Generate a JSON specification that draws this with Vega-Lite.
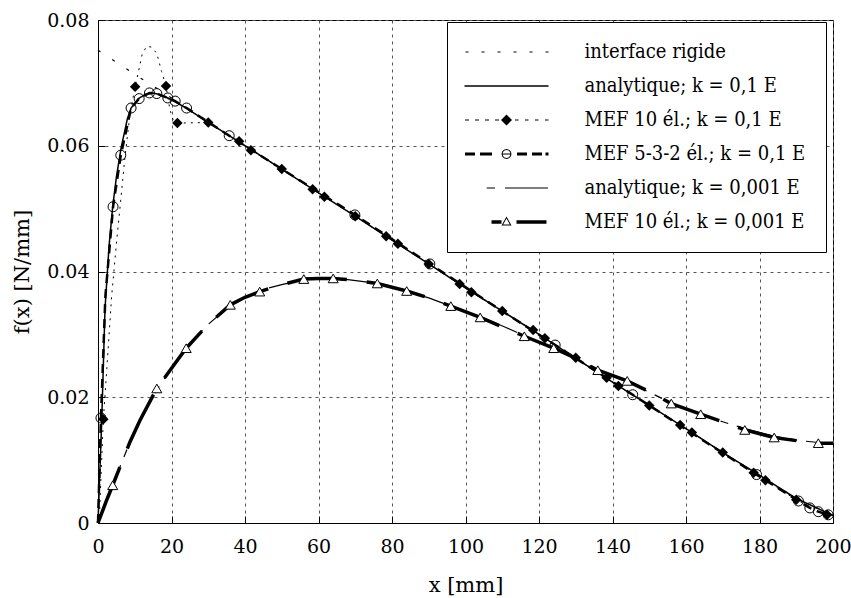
{
  "$schema": "https://vega.github.io/schema/vega-lite/v6.json",
  "width": 735,
  "height": 503,
  "autosize": {"type": "none"},
  "padding": {"left": 98, "top": 20, "right": 18, "bottom": 75},
  "background": "white",
  "datasets": {
    "d": [
      {"s": "rig", "x": 0, "y": 0.0752, "m": 0}, {"s": "rig", "x": 6, "y": 0.0729, "m": 0}, {"s": "rig", "x": 12, "y": 0.0706, "m": 0}, {"s": "rig", "x": 18, "y": 0.0684, "m": 0}, {"s": "rig", "x": 24, "y": 0.066, "m": 0}, {"s": "rig", "x": 30, "y": 0.0637, "m": 0}, {"s": "rig", "x": 40, "y": 0.06, "m": 0}, {"s": "rig", "x": 50, "y": 0.0563, "m": 0}, {"s": "rig", "x": 60, "y": 0.0525, "m": 0}, {"s": "rig", "x": 70, "y": 0.0488, "m": 0}, {"s": "rig", "x": 80, "y": 0.045, "m": 0}, {"s": "rig", "x": 90, "y": 0.0412, "m": 0}, {"s": "rig", "x": 100, "y": 0.0374, "m": 0}, {"s": "rig", "x": 110, "y": 0.0337, "m": 0}, {"s": "rig", "x": 120, "y": 0.03, "m": 0}, {"s": "rig", "x": 130, "y": 0.0262, "m": 0}, {"s": "rig", "x": 140, "y": 0.0224, "m": 0}, {"s": "rig", "x": 150, "y": 0.0187, "m": 0}, {"s": "rig", "x": 160, "y": 0.015, "m": 0}, {"s": "rig", "x": 170, "y": 0.0112, "m": 0}, {"s": "rig", "x": 180, "y": 0.0076, "m": 0}, {"s": "rig", "x": 190, "y": 0.0039, "m": 0}, {"s": "rig", "x": 200, "y": 0.0012, "m": 0},

      {"s": "a01", "x": 0, "y": 0, "m": 0}, {"s": "a01", "x": 0.3, "y": 0.005, "m": 0}, {"s": "a01", "x": 1, "y": 0.016, "m": 0}, {"s": "a01", "x": 1.9, "y": 0.034, "m": 0}, {"s": "a01", "x": 3, "y": 0.044, "m": 0}, {"s": "a01", "x": 4, "y": 0.0503, "m": 0}, {"s": "a01", "x": 5, "y": 0.055, "m": 0}, {"s": "a01", "x": 6.3, "y": 0.0597, "m": 0}, {"s": "a01", "x": 8, "y": 0.0643, "m": 0}, {"s": "a01", "x": 9, "y": 0.066, "m": 0}, {"s": "a01", "x": 11, "y": 0.0675, "m": 0}, {"s": "a01", "x": 13, "y": 0.0682, "m": 0}, {"s": "a01", "x": 15, "y": 0.0684, "m": 0}, {"s": "a01", "x": 17, "y": 0.0681, "m": 0}, {"s": "a01", "x": 19, "y": 0.0676, "m": 0}, {"s": "a01", "x": 21, "y": 0.067, "m": 0}, {"s": "a01", "x": 24, "y": 0.066, "m": 0}, {"s": "a01", "x": 30, "y": 0.0637, "m": 0}, {"s": "a01", "x": 36, "y": 0.0615, "m": 0}, {"s": "a01", "x": 40, "y": 0.06, "m": 0}, {"s": "a01", "x": 50, "y": 0.0563, "m": 0}, {"s": "a01", "x": 60, "y": 0.0525, "m": 0}, {"s": "a01", "x": 70, "y": 0.0488, "m": 0}, {"s": "a01", "x": 80, "y": 0.045, "m": 0}, {"s": "a01", "x": 90, "y": 0.0412, "m": 0}, {"s": "a01", "x": 100, "y": 0.0374, "m": 0}, {"s": "a01", "x": 110, "y": 0.0337, "m": 0}, {"s": "a01", "x": 120, "y": 0.03, "m": 0}, {"s": "a01", "x": 130, "y": 0.0262, "m": 0}, {"s": "a01", "x": 140, "y": 0.0224, "m": 0}, {"s": "a01", "x": 150, "y": 0.0187, "m": 0}, {"s": "a01", "x": 160, "y": 0.015, "m": 0}, {"s": "a01", "x": 170, "y": 0.0112, "m": 0}, {"s": "a01", "x": 180, "y": 0.0076, "m": 0}, {"s": "a01", "x": 190, "y": 0.0039, "m": 0}, {"s": "a01", "x": 200, "y": 0.0012, "m": 0},

      {"s": "m01", "x": 0.3, "y": 0, "m": 0}, {"s": "m01", "x": 1.45, "y": 0.0165, "m": 1}, {"s": "m01", "x": 2.4, "y": 0.0245, "m": 0}, {"s": "m01", "x": 3.7, "y": 0.036, "m": 0}, {"s": "m01", "x": 5.1, "y": 0.045, "m": 0}, {"s": "m01", "x": 6.3, "y": 0.052, "m": 0}, {"s": "m01", "x": 7.3, "y": 0.058, "m": 0}, {"s": "m01", "x": 8.7, "y": 0.065, "m": 0}, {"s": "m01", "x": 10.1, "y": 0.0694, "m": 1}, {"s": "m01", "x": 10.9, "y": 0.0715, "m": 0}, {"s": "m01", "x": 12, "y": 0.0745, "m": 0}, {"s": "m01", "x": 13.2, "y": 0.0758, "m": 0}, {"s": "m01", "x": 14.5, "y": 0.0757, "m": 0}, {"s": "m01", "x": 16, "y": 0.0747, "m": 0}, {"s": "m01", "x": 17.3, "y": 0.0718, "m": 0}, {"s": "m01", "x": 18.5, "y": 0.0695, "m": 1}, {"s": "m01", "x": 19.6, "y": 0.0657, "m": 0}, {"s": "m01", "x": 20.5, "y": 0.064, "m": 0}, {"s": "m01", "x": 21.6, "y": 0.0636, "m": 1}, {"s": "m01", "x": 30, "y": 0.0637, "m": 1}, {"s": "m01", "x": 38.4, "y": 0.0607, "m": 1}, {"s": "m01", "x": 41.6, "y": 0.0593, "m": 1}, {"s": "m01", "x": 50, "y": 0.0563, "m": 1}, {"s": "m01", "x": 58.4, "y": 0.0531, "m": 1}, {"s": "m01", "x": 61.6, "y": 0.0519, "m": 1}, {"s": "m01", "x": 70, "y": 0.0488, "m": 1}, {"s": "m01", "x": 78.4, "y": 0.0456, "m": 1}, {"s": "m01", "x": 81.6, "y": 0.0444, "m": 1}, {"s": "m01", "x": 90, "y": 0.0412, "m": 1}, {"s": "m01", "x": 98.4, "y": 0.038, "m": 1}, {"s": "m01", "x": 101.6, "y": 0.0367, "m": 1}, {"s": "m01", "x": 110, "y": 0.0337, "m": 1}, {"s": "m01", "x": 118.4, "y": 0.0307, "m": 1}, {"s": "m01", "x": 121.6, "y": 0.0294, "m": 1}, {"s": "m01", "x": 130, "y": 0.0263, "m": 1}, {"s": "m01", "x": 138.4, "y": 0.0231, "m": 1}, {"s": "m01", "x": 141.6, "y": 0.0218, "m": 1}, {"s": "m01", "x": 150, "y": 0.0187, "m": 1}, {"s": "m01", "x": 158.4, "y": 0.0156, "m": 1}, {"s": "m01", "x": 161.6, "y": 0.0144, "m": 1}, {"s": "m01", "x": 170, "y": 0.0112, "m": 1}, {"s": "m01", "x": 178.4, "y": 0.008, "m": 1}, {"s": "m01", "x": 181.6, "y": 0.0068, "m": 1}, {"s": "m01", "x": 190, "y": 0.0037, "m": 1}, {"s": "m01", "x": 198.4, "y": 0.0013, "m": 1},

      {"s": "m532", "x": 0, "y": 0, "m": 0}, {"s": "m532", "x": 0.8, "y": 0.0167, "m": 1}, {"s": "m532", "x": 2, "y": 0.036, "m": 0}, {"s": "m532", "x": 4.1, "y": 0.0503, "m": 1}, {"s": "m532", "x": 6.2, "y": 0.0585, "m": 1}, {"s": "m532", "x": 9, "y": 0.066, "m": 1}, {"s": "m532", "x": 11.2, "y": 0.0675, "m": 1}, {"s": "m532", "x": 14, "y": 0.0684, "m": 1}, {"s": "m532", "x": 16, "y": 0.0683, "m": 1}, {"s": "m532", "x": 19, "y": 0.0676, "m": 1}, {"s": "m532", "x": 21, "y": 0.0671, "m": 1}, {"s": "m532", "x": 24.1, "y": 0.066, "m": 1}, {"s": "m532", "x": 35.7, "y": 0.0616, "m": 1}, {"s": "m532", "x": 50, "y": 0.0563, "m": 0}, {"s": "m532", "x": 69.9, "y": 0.049, "m": 1}, {"s": "m532", "x": 90.3, "y": 0.0412, "m": 1}, {"s": "m532", "x": 110, "y": 0.0337, "m": 0}, {"s": "m532", "x": 124.4, "y": 0.0283, "m": 1}, {"s": "m532", "x": 145.5, "y": 0.0204, "m": 1}, {"s": "m532", "x": 165, "y": 0.013, "m": 0}, {"s": "m532", "x": 179.2, "y": 0.0077, "m": 1}, {"s": "m532", "x": 190.6, "y": 0.0035, "m": 1}, {"s": "m532", "x": 193.7, "y": 0.0024, "m": 1}, {"s": "m532", "x": 196, "y": 0.0018, "m": 1}, {"s": "m532", "x": 198.7, "y": 0.0013, "m": 1},

      {"s": "a0001", "x": 0, "y": 0, "m": 0}, {"s": "a0001", "x": 2.4, "y": 0.0037, "m": 0}, {"s": "a0001", "x": 5, "y": 0.0075, "m": 0}, {"s": "a0001", "x": 8.7, "y": 0.0129, "m": 0}, {"s": "a0001", "x": 12, "y": 0.017, "m": 0}, {"s": "a0001", "x": 16, "y": 0.0212, "m": 0}, {"s": "a0001", "x": 20, "y": 0.0246, "m": 0}, {"s": "a0001", "x": 25, "y": 0.0286, "m": 0}, {"s": "a0001", "x": 30, "y": 0.0316, "m": 0}, {"s": "a0001", "x": 36, "y": 0.0346, "m": 0}, {"s": "a0001", "x": 40, "y": 0.0359, "m": 0}, {"s": "a0001", "x": 46, "y": 0.0373, "m": 0}, {"s": "a0001", "x": 50, "y": 0.0379, "m": 0}, {"s": "a0001", "x": 56, "y": 0.0387, "m": 0}, {"s": "a0001", "x": 62, "y": 0.0389, "m": 0}, {"s": "a0001", "x": 68, "y": 0.0387, "m": 0}, {"s": "a0001", "x": 76, "y": 0.0381, "m": 0}, {"s": "a0001", "x": 84, "y": 0.0368, "m": 0}, {"s": "a0001", "x": 90, "y": 0.0358, "m": 0}, {"s": "a0001", "x": 96, "y": 0.0345, "m": 0}, {"s": "a0001", "x": 105, "y": 0.0326, "m": 0}, {"s": "a0001", "x": 111, "y": 0.0311, "m": 0}, {"s": "a0001", "x": 116, "y": 0.0298, "m": 0}, {"s": "a0001", "x": 124, "y": 0.0278, "m": 0}, {"s": "a0001", "x": 130, "y": 0.0262, "m": 0}, {"s": "a0001", "x": 136, "y": 0.0244, "m": 0}, {"s": "a0001", "x": 144, "y": 0.0224, "m": 0}, {"s": "a0001", "x": 150, "y": 0.0208, "m": 0}, {"s": "a0001", "x": 156, "y": 0.0191, "m": 0}, {"s": "a0001", "x": 164, "y": 0.0172, "m": 0}, {"s": "a0001", "x": 170, "y": 0.0161, "m": 0}, {"s": "a0001", "x": 176, "y": 0.015, "m": 0}, {"s": "a0001", "x": 184, "y": 0.0138, "m": 0}, {"s": "a0001", "x": 191, "y": 0.0131, "m": 0}, {"s": "a0001", "x": 196, "y": 0.0128, "m": 0}, {"s": "a0001", "x": 200, "y": 0.0127, "m": 0},

      {"s": "m0001", "x": 0, "y": 0, "m": 0}, {"s": "m0001", "x": 2.4, "y": 0.0037, "m": 0}, {"s": "m0001", "x": 4, "y": 0.006, "m": 1}, {"s": "m0001", "x": 8.7, "y": 0.0129, "m": 0}, {"s": "m0001", "x": 11.4, "y": 0.0163, "m": 0}, {"s": "m0001", "x": 16, "y": 0.0214, "m": 1}, {"s": "m0001", "x": 21, "y": 0.0254, "m": 0}, {"s": "m0001", "x": 24, "y": 0.0278, "m": 1}, {"s": "m0001", "x": 30, "y": 0.0316, "m": 0}, {"s": "m0001", "x": 36, "y": 0.0347, "m": 1}, {"s": "m0001", "x": 40, "y": 0.0359, "m": 0}, {"s": "m0001", "x": 44, "y": 0.0368, "m": 1}, {"s": "m0001", "x": 50, "y": 0.0379, "m": 0}, {"s": "m0001", "x": 56, "y": 0.0388, "m": 1}, {"s": "m0001", "x": 60, "y": 0.0389, "m": 0}, {"s": "m0001", "x": 64, "y": 0.0389, "m": 1}, {"s": "m0001", "x": 70, "y": 0.0386, "m": 0}, {"s": "m0001", "x": 76, "y": 0.0381, "m": 1}, {"s": "m0001", "x": 84, "y": 0.0369, "m": 1}, {"s": "m0001", "x": 90, "y": 0.0358, "m": 0}, {"s": "m0001", "x": 96, "y": 0.0345, "m": 1}, {"s": "m0001", "x": 104, "y": 0.0327, "m": 1}, {"s": "m0001", "x": 110, "y": 0.0312, "m": 0}, {"s": "m0001", "x": 116, "y": 0.0297, "m": 1}, {"s": "m0001", "x": 124, "y": 0.0278, "m": 1}, {"s": "m0001", "x": 130, "y": 0.0262, "m": 0}, {"s": "m0001", "x": 136, "y": 0.0243, "m": 1}, {"s": "m0001", "x": 144, "y": 0.0226, "m": 1}, {"s": "m0001", "x": 150, "y": 0.0209, "m": 0}, {"s": "m0001", "x": 156, "y": 0.019, "m": 1}, {"s": "m0001", "x": 164, "y": 0.0173, "m": 1}, {"s": "m0001", "x": 170, "y": 0.0161, "m": 0}, {"s": "m0001", "x": 176, "y": 0.0148, "m": 1}, {"s": "m0001", "x": 184, "y": 0.0136, "m": 1}, {"s": "m0001", "x": 190, "y": 0.0131, "m": 0}, {"s": "m0001", "x": 196, "y": 0.0127, "m": 1}, {"s": "m0001", "x": 200, "y": 0.0127, "m": 0}
    ]
  },
  "data": {"name": "d"},
  "encoding": {
    "x": {
      "field": "x", "type": "quantitative",
      "scale": {"domain": [0, 200], "nice": false, "zero": false},
      "axis": {"values": [0, 20, 40, 60, 80, 100, 120, 140, 160, 180, 200], "labelPadding": 21, "titlePadding": 18},
      "title": "x [mm]"
    },
    "y": {
      "field": "y", "type": "quantitative",
      "scale": {"domain": [0, 0.08], "nice": false, "zero": false},
      "axis": {"values": [0, 0.02, 0.04, 0.06, 0.08], "labelExpr": "datum.value == 0 ? '0' : format(datum.value, '.2f')", "labelPadding": 16, "titlePadding": 14},
      "title": "f(x) [N/mm]"
    }
  },
  "layer": [
    {"transform": [{"filter": "datum.s == 'rig'"}], "mark": {"type": "line", "color": "black", "strokeWidth": 1.2, "strokeDash": [3, 14]}},
    {"transform": [{"filter": "datum.s == 'a01'"}], "mark": {"type": "line", "color": "black", "strokeWidth": 1.5}},
    {"transform": [{"filter": "datum.s == 'm01'"}], "mark": {"type": "line", "color": "black", "strokeWidth": 1, "strokeDash": [2, 5]}},
    {"transform": [{"filter": "datum.s == 'm532'"}], "mark": {"type": "line", "color": "black", "strokeWidth": 2.5, "strokeDash": [9, 6]}},
    {"transform": [{"filter": "datum.s == 'a0001'"}], "mark": {"type": "line", "color": "black", "strokeWidth": 1.2, "strokeDash": [8, 9, 45, 9]}},
    {"transform": [{"filter": "datum.s == 'm0001'"}], "mark": {"type": "line", "color": "black", "strokeWidth": 3.5, "strokeDash": [60, 20]}},
    {"transform": [{"filter": "datum.s == 'm01' && datum.m == 1"}], "mark": {"type": "point", "shape": "diamond", "filled": true, "color": "black", "size": 110, "opacity": 1}},
    {"transform": [{"filter": "datum.s == 'm532' && datum.m == 1"}], "mark": {"type": "point", "shape": "circle", "filled": false, "color": "black", "strokeWidth": 1, "size": 100, "opacity": 1}},
    {"transform": [{"filter": "datum.s == 'm0001' && datum.m == 1"}], "mark": {"type": "point", "shape": "triangle-up", "fill": "white", "fillOpacity": 1, "stroke": "black", "strokeWidth": 1, "size": 100, "opacity": 1}},
    {
      "data": {"values": []},
      "mark": {"type": "point", "filled": true, "color": "black", "opacity": 1, "strokeWidth": 0},
      "encoding": {
        "shape": {
          "field": "lab", "type": "nominal",
          "scale": {
            "domain": ["interface rigide", "analytique; k = 0,1 E", "MEF 10 él.; k = 0,1 E", "MEF 5-3-2 él.; k = 0,1 E", "analytique; k = 0,001 E", "MEF 10 él.; k = 0,001 E"],
            "range": [
              "M-4.1,-0.06H-3.8V0.06H-4.1ZM-2.5,-0.06H-2.2V0.06H-2.5ZM-0.9,-0.06H-0.6V0.06H-0.9ZM0.7,-0.06H1V0.06H0.7ZM2.3,-0.06H2.6V0.06H2.3ZM3.9,-0.06H4.2V0.06H3.9Z",
              "M-4.2,-0.075H4.2V0.075H-4.2Z",
              "M-4.15,-0.05H-3.75V0.05H-4.15ZM-3.15,-0.05H-2.75V0.05H-3.15ZM-2.15,-0.05H-1.75V0.05H-2.15ZM-1.15,-0.05H-0.75V0.05H-1.15ZM0.85,-0.05H1.2V0.05H0.85ZM1.85,-0.05H2.2V0.05H1.85ZM2.85,-0.05H3.2V0.05H2.85ZM3.85,-0.05H4.2V0.05H3.85ZM0,-0.55L0.55,0L0,0.55L-0.55,0Z",
              "M-4.15,-0.15H-3.15V0.15H-4.15ZM-2.65,-0.15H-1.45V0.15H-2.65ZM1.05,-0.15H2.05V0.15H1.05ZM2.55,-0.15H3.55V0.15H2.55ZM3.9,-0.15H4.2V0.15H3.9ZM-0.4,-0.05H0.4V0.05H-0.4ZM0.5,0L0.433,0.25L0.25,0.433L0,0.5L-0.25,0.433L-0.433,0.25L-0.5,0L-0.433,-0.25L-0.25,-0.433L0,-0.5L0.25,-0.433L0.433,-0.25ZM0.4,0L0.346,-0.2L0.2,-0.346L0,-0.4L-0.2,-0.346L-0.346,-0.2L-0.4,0L-0.346,0.2L-0.2,0.346L0,0.4L0.2,0.346L0.346,0.2Z",
              "M-1.98,-0.06H-1.15V0.06H-1.98ZM-0.15,-0.06H4.15V0.06H-0.15Z",
              "M-1.5,-0.175H-0.5V0.175H-1.5ZM1,-0.175H4V0.175H1ZM0,-0.55L0.5,0.35L-0.5,0.35ZM0,-0.35L-0.33,0.26L0.33,0.26Z"
            ]
          },
          "legend": {
            "orient": "none", "legendX": 349, "legendY": 2, "title": null,
            "symbolSize": 400, "symbolOffset": 29.5, "symbolStrokeWidth": 0, "symbolFillColor": "black", "symbolOpacity": 1,
            "labelFont": "DejaVu Serif Condensed", "labelFontSize": 20, "labelColor": "black", "labelLimit": 1000, "labelOffset": 68,
            "padding": 20, "rowPadding": 14, "strokeColor": "black", "fillColor": "white",
            "encode": {"legend": {"update": {"strokeWidth": {"value": 3}, "stroke": {"value": "black"}}}}
          }
        }
      }
    }
  ],
  "config": {
    "font": "DejaVu Serif",
    "view": {"stroke": "black", "strokeWidth": 1},
    "axis": {
      "labelFont": "DejaVu Serif", "labelFontSize": 19, "labelColor": "black",
      "titleFont": "DejaVu Serif", "titleFontSize": 21, "titleFontWeight": "normal", "titleColor": "black",
      "domainColor": "black", "domainWidth": 1, "tickColor": "black", "tickSize": -7, "tickWidth": 1,
      "grid": true, "gridColor": "#555", "gridDash": [3, 4], "gridOpacity": 1, "gridWidth": 1,
      "labelFlush": false, "labelOverlap": false
    }
  }
}
